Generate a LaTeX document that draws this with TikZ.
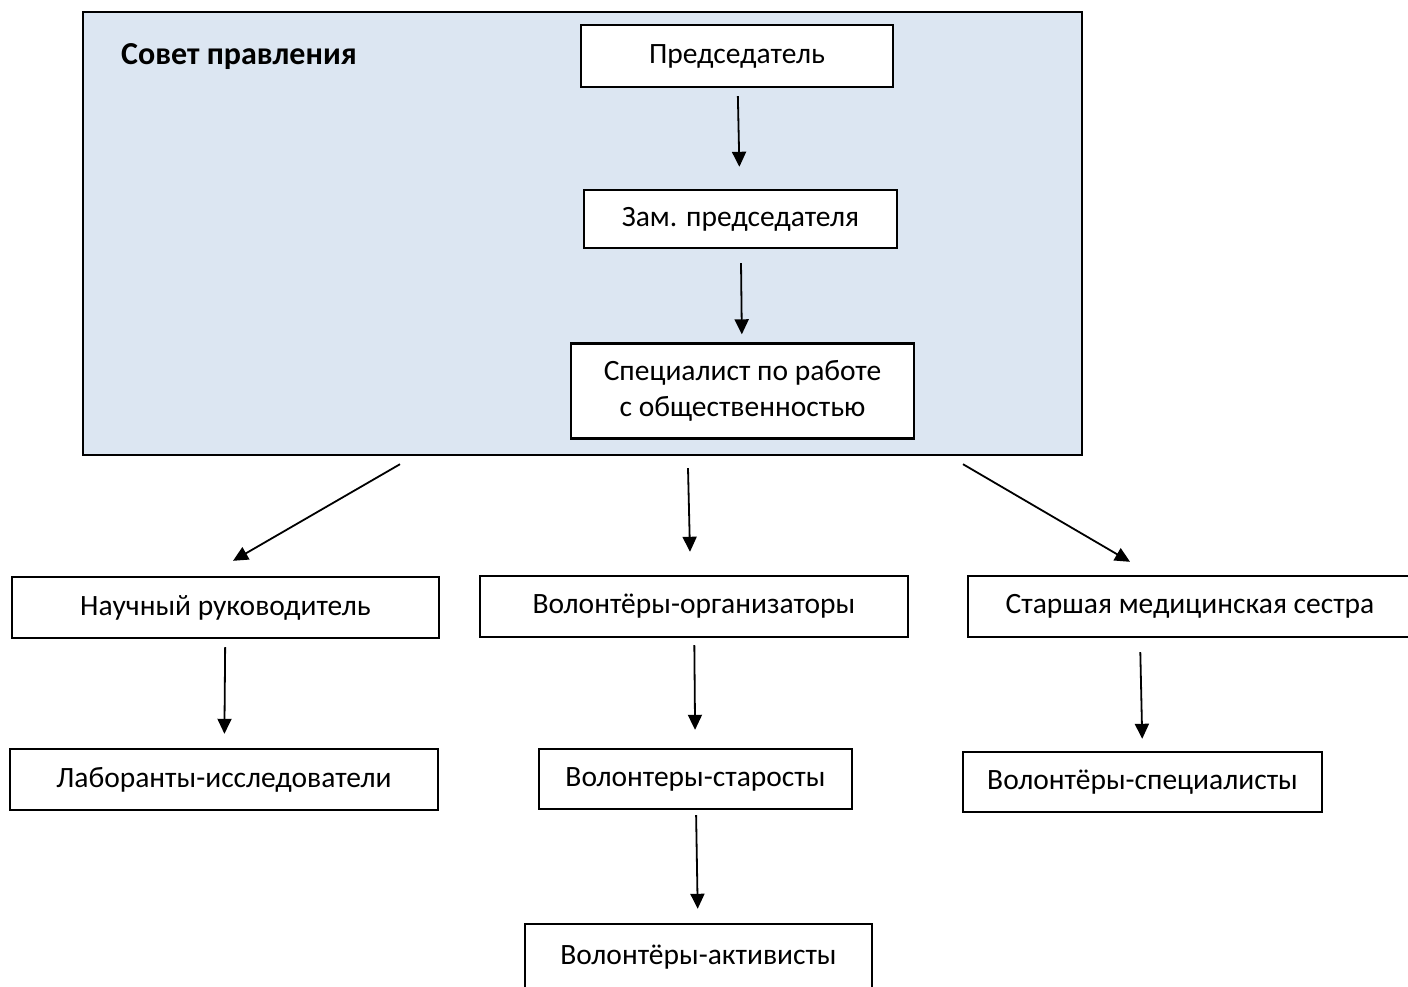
\documentclass[tikz,border=0pt]{standalone}
\usepackage{fontspec}
\setmainfont{Carlito}
\usetikzlibrary{arrows.meta}
\definecolor{boardblue}{RGB}{220,230,242}
\tikzstyle{arrow} = [line width=1.8pt, -{Triangle[length=15pt,width=14pt]}]
\tikzstyle{board} = [rectangle, draw=black, line width=2.4pt, fill=boardblue, inner sep=0pt]
\tikzstyle{role} = [rectangle, draw=black, line width=2.4pt, fill=white, align=center, inner sep=0pt, font=\fontsize{29.5}{36}\selectfont]

\begin{document}
\begin{tikzpicture}[x=1pt, y=-1pt]
\useasboundingbox [fill=white] (0,0) rectangle (1408,987);

% Board
\node (board) [board, minimum width=999pt, minimum height=443pt] at (582.5,233.5) {};
\node (boardtitle) [anchor=west, inner sep=0pt, font=\fontsize{32}{38}\selectfont\bfseries] at (121,57) {Совет правления};
\node (chair) [role, minimum width=312pt, minimum height=62pt] at (737,56) {Председатель};
\node (deputy) [role, minimum width=313pt, minimum height=58pt] at (740.5,219) {Зам. председателя};
\node (pr) [role, minimum width=343pt, minimum height=95pt] at (742.5,391) {Специалист по работе\\с общественностью};

% Second level
\node (science) [role, minimum width=427pt, minimum height=61pt] at (225.5,607.5) {Научный руководитель};
\node (organizers) [role, minimum width=428pt, minimum height=61pt] at (694,606.5) {Волонтёры-организаторы};
\node (nurse) [role, minimum width=444pt, minimum height=61pt] at (1190,606.5) {Старшая медицинская сестра};

% Third level
\node (lab) [role, minimum width=428pt, minimum height=61pt] at (224,779.5) {Лаборанты-исследователи};
\node (elders) [role, minimum width=313pt, minimum height=60pt] at (695.5,779) {Волонтеры-старосты};
\node (activists) [role, minimum width=347pt, minimum height=66pt] at (698.5,957) {Волонтёры-активисты};
\node (medics) [role, minimum width=359pt, minimum height=60pt] at (1142.5,782) {Волонтёры-специалисты};

% Arrows inside the board
\draw [arrow, shorten <=8pt, shorten >=22pt] (chair) -- (deputy);
\draw [arrow, shorten <=14pt, shorten >=8pt] (deputy) -- (pr);

% Arrows from the board
\draw [arrow] ([xshift=-182.5pt, yshift=-8pt]board.south) -- ([xshift=7.5pt, yshift=15pt]science.north);
\draw [arrow] ([xshift=105.5pt, yshift=-12pt]board.south) -- ([xshift=-4pt, yshift=23pt]organizers.north);
\draw [arrow] ([xshift=380.5pt, yshift=-8pt]board.south) -- ([xshift=-60pt, yshift=13pt]nurse.north);

% Lower arrows
\draw [arrow, shorten <=8pt, shorten >=14pt] (science) -- (lab);
\draw [arrow, shorten <=7pt, shorten >=18pt] (organizers) -- (elders);
\draw [arrow, shorten <=5pt, shorten >=14pt] (elders) -- (activists);
\draw [arrow, shorten <=14pt, shorten >=12pt] ([xshift=-50pt]nurse.south) -- (medics.north);

\end{tikzpicture}
\end{document}
